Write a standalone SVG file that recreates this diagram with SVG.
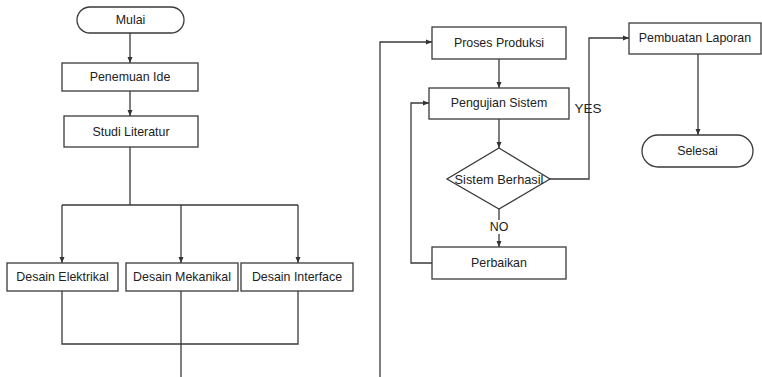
<svg xmlns="http://www.w3.org/2000/svg" width="762" height="377" viewBox="0 0 762 377">
<defs>
<marker id="ah" markerWidth="8" markerHeight="8" refX="7" refY="4" orient="auto" markerUnits="userSpaceOnUse">
<path d="M1,1.5 L7,4 L1,6.5 Z" fill="#333"/>
</marker>
<style>
.b{fill:#fff;stroke:#3a3a3a;stroke-width:1.3}
.c{fill:none;stroke:#3a3a3a;stroke-width:1.3}
.t{font-family:"Liberation Sans",Arial,sans-serif;font-size:12.4px;fill:#222;text-anchor:middle;dominant-baseline:central}
</style>
</defs>
<rect width="762" height="377" fill="#fff"/>
<g id="connectors">
<path class="c" d="M130,33 V63" marker-end="url(#ah)"/>
<path class="c" d="M130,91 V116" marker-end="url(#ah)"/>
<path class="c" d="M130,147 V205 M62,205 H298"/>
<path class="c" d="M62,205 V263" marker-end="url(#ah)"/>
<path class="c" d="M181,205 V263" marker-end="url(#ah)"/>
<path class="c" d="M298,205 V263" marker-end="url(#ah)"/>
<path class="c" d="M62,291 V344 H298 V291"/>
<path class="c" d="M181,291 V377"/>
<path class="c" d="M380,377 V42 H432" marker-end="url(#ah)"/>
<path class="c" d="M499,59 V88" marker-end="url(#ah)"/>
<path class="c" d="M499,119 V148" marker-end="url(#ah)"/>
<path class="c" d="M550,179 H589 V38 H629" marker-end="url(#ah)"/>
<path class="c" d="M698,54 V135" marker-end="url(#ah)"/>
<path class="c" d="M499,209 V220"/>
<path class="c" d="M499,234 V247" marker-end="url(#ah)"/>
<path class="c" d="M432,263 H411 V103 H429" marker-end="url(#ah)"/>
<text class="t" x="588" y="108" style="font-size:13.5px">YES</text>
<text class="t" x="499" y="227">NO</text>
</g>
<g id="mulai"><rect class="b" x="77" y="7" width="107" height="26" rx="13"/><text class="t" x="130.5" y="20">Mulai</text></g>
<g id="penemuan"><rect class="b" x="62" y="63" width="136" height="28"/><text class="t" x="130" y="77">Penemuan Ide</text></g>
<g id="studi"><rect class="b" x="64" y="116" width="134" height="31"/><text class="t" x="131" y="131.5">Studi Literatur</text></g>
<g id="elektrikal"><rect class="b" x="7" y="263" width="111" height="28"/><text class="t" x="62.5" y="277">Desain Elektrikal</text></g>
<g id="mekanikal"><rect class="b" x="126" y="263" width="112" height="28"/><text class="t" x="182" y="277">Desain Mekanikal</text></g>
<g id="interface"><rect class="b" x="241" y="263" width="112" height="28"/><text class="t" x="297" y="277">Desain Interface</text></g>
<g id="proses"><rect class="b" x="432" y="27" width="134" height="32"/><text class="t" x="499" y="42.5">Proses Produksi</text></g>
<g id="pengujian"><rect class="b" x="429" y="88" width="140" height="31"/><text class="t" x="499" y="103">Pengujian Sistem</text></g>
<g id="berhasil"><path class="b" d="M499,148 L550,179 L499,209 L447,179 Z"/><text class="t" x="499" y="179" style="font-size:12.8px">Sistem Berhasil</text></g>
<g id="perbaikan"><rect class="b" x="432" y="247" width="134" height="32"/><text class="t" x="499" y="263">Perbaikan</text></g>
<g id="laporan"><rect class="b" x="629" y="23" width="132" height="31"/><text class="t" x="695" y="38">Pembuatan Laporan</text></g>
<g id="selesai"><rect class="b" x="642" y="135" width="111" height="32" rx="16"/><text class="t" x="697.5" y="151">Selesai</text></g>
</svg>
